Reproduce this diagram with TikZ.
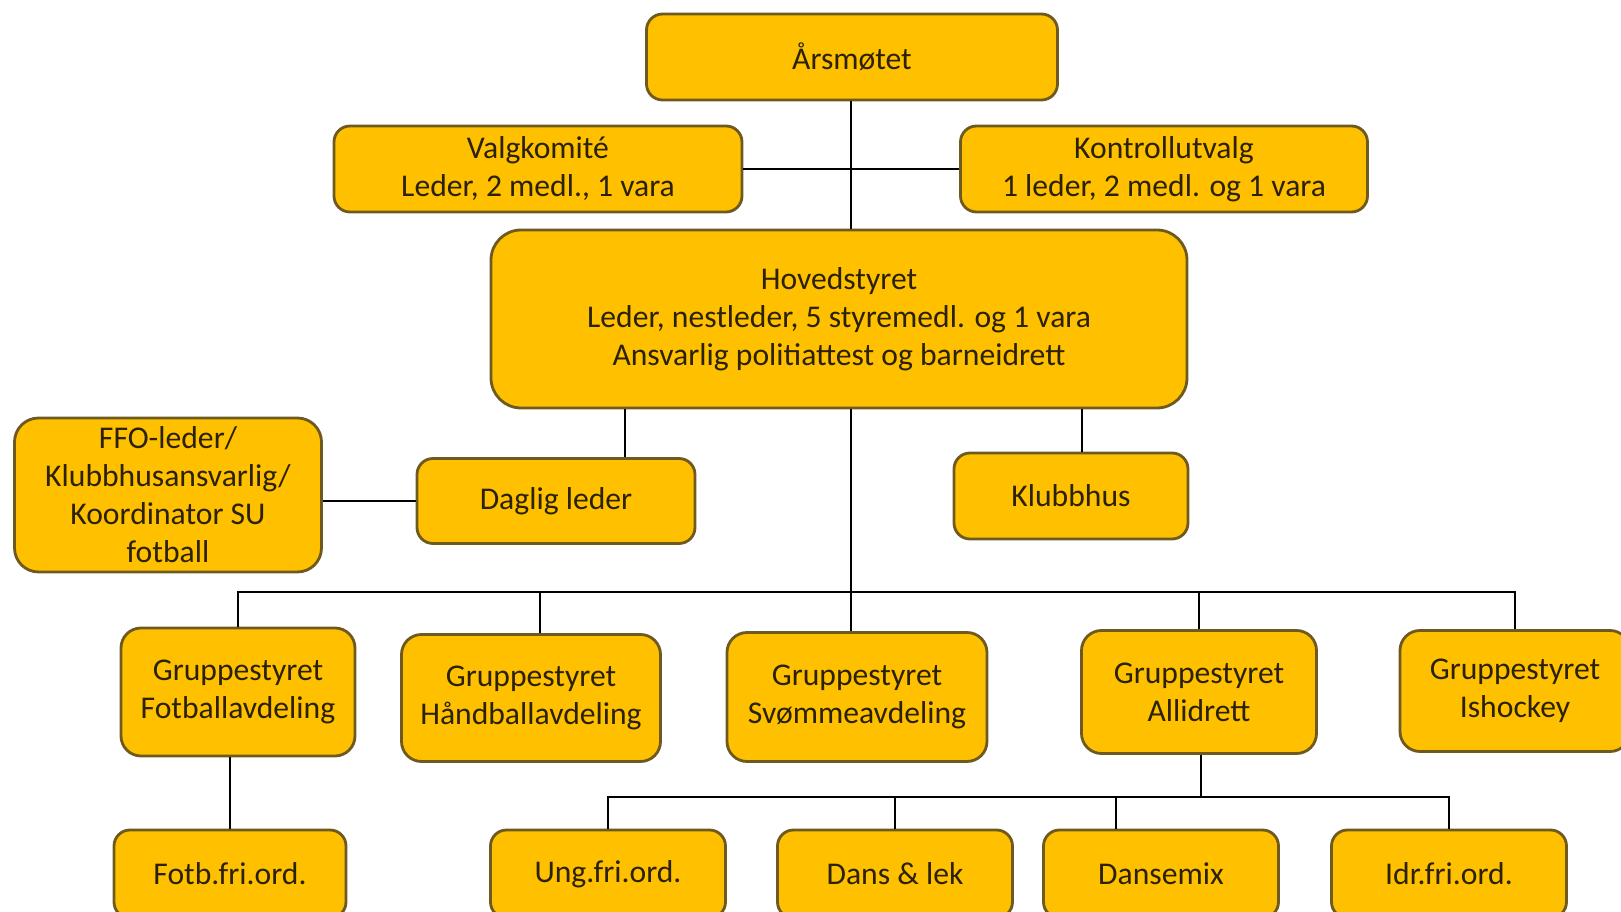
\documentclass[tikz,border=0pt]{standalone}
\usepackage{fontspec}
\setmainfont{Carlito}
\usepackage{xcolor}
\usepackage{tikz}
\usetikzlibrary{positioning}
\definecolor{boxfill}{HTML}{FFC000}
\definecolor{boxline}{HTML}{6E5A1E}
\definecolor{boxtext}{HTML}{2B2103}

\begin{document}
\begin{tikzpicture}
	\tikzstyle{every node}=[font=\fontsize{9}{10.8}\selectfont]
	\tikzstyle{unit}=[draw=boxline, fill=boxfill, text=boxtext, line width=0.8pt, rounded corners=1.6mm, align=center, inner sep=0pt]
	\tikzstyle{link}=[line width=0.6pt, black]
	\useasboundingbox (0,0) rectangle (16.21,9.12);
		\node [unit, minimum width=4.11cm, minimum height=0.86cm] (aarsmote) at (8.52,8.55) {Årsmøtet};
		\node [unit, minimum width=4.08cm, minimum height=0.86cm] (valg) at (5.38,7.43) {Valgkomité\\Leder, 2 medl., 1 vara};
		\node [unit, minimum width=4.07cm, minimum height=0.86cm] (kontroll) at (11.64,7.43) {Kontrollutvalg\\1 leder, 2 medl. og 1 vara};
		\node [unit, rounded corners=3mm, minimum width=6.96cm, minimum height=1.78cm] (hoved) at (8.39,5.93) {Hovedstyret\\Leder, nestleder, 5 styremedl. og 1 vara\\Ansvarlig politiattest og barneidrett};
		\node [unit, rounded corners=2.4mm, minimum width=3.07cm, minimum height=1.54cm] (ffo) at (1.68,4.17) {FFO-leder/\\Klubbhusansvarlig/\\Koordinator SU\\fotball};
		\node [unit, minimum width=2.78cm, minimum height=0.85cm] (daglig) at (5.56,4.11) {Daglig leder};
		\node [unit, minimum width=2.34cm, minimum height=0.86cm] (klubbhus) at (10.71,4.16) {Klubbhus};
		\node [unit, rounded corners=2mm, minimum width=2.34cm, minimum height=1.28cm] (gfot) at (2.38,2.20) {Gruppestyret\\Fotballavdeling};
		\node [unit, rounded corners=2mm, minimum width=2.59cm, minimum height=1.27cm] (ghand) at (5.31,2.14) {Gruppestyret\\Håndballavdeling};
		\node [unit, rounded corners=2mm, minimum width=2.60cm, minimum height=1.29cm] (gsvom) at (8.57,2.15) {Gruppestyret\\Svømmeavdeling};
		\node [unit, rounded corners=2mm, minimum width=2.35cm, minimum height=1.23cm] (galli) at (11.99,2.20) {Gruppestyret\\Allidrett};
		\node [unit, rounded corners=2mm, minimum width=2.30cm, minimum height=1.21cm] (gis) at (15.15,2.21) {Gruppestyret\\Ishockey};
		\node [unit, minimum width=2.32cm, minimum height=0.88cm] (fotb) at (2.30,0.38) {Fotb.fri.ord.};
		\node [unit, minimum width=2.35cm, minimum height=0.88cm] (ung) at (6.08,0.38) {Ung.fri.ord.};
		\node [unit, minimum width=2.35cm, minimum height=0.88cm] (dans) at (8.95,0.38) {Dans \& lek};
		\node [unit, minimum width=2.35cm, minimum height=0.88cm] (dmix) at (11.61,0.38) {Dansemix};
		\node [unit, minimum width=2.35cm, minimum height=0.88cm] (idr) at (14.49,0.38) {Idr.fri.ord.};
		\coordinate (bus) at (8.51,3.20);
		\coordinate (bus2) at (12.01,1.15);
		\draw [link] (aarsmote.south -| bus) -- (hoved.north -| bus);
		\draw [link] (valg.east) -- (kontroll.west);
		\draw [link] ([xshift=6.9mm]daglig.north) -- ([xshift=6.9mm]daglig.north |- hoved.south);
		\draw [link] ([xshift=1.1mm]klubbhus.north) -- ([xshift=1.1mm]klubbhus.north |- hoved.south);
		\draw [link] (ffo.east |- daglig.west) -- (daglig.west);
		\draw [link] (hoved.south -| bus) -- (gsvom.north -| bus);
		\draw [link] (gfot.north) -- (gfot.north |- bus) -- (gis.north |- bus) -- (gis.north);
		\draw [link] ([xshift=0.9mm]ghand.north) -- ([xshift=0.9mm]ghand.north |- bus);
		\draw [link] (galli.north) -- (galli.north |- bus);
		\draw [link] (fotb.north) -- (fotb.north |- gfot.south);
		\draw [link] (galli.south -| bus2) -- (bus2);
		\draw [link] (ung.north) -- (ung.north |- bus2) -- (idr.north |- bus2) -- (idr.north);
		\draw [link] (dans.north) -- (dans.north |- bus2);
		\draw [link] ([xshift=-4.5mm]dmix.north) -- ([xshift=-4.5mm]dmix.north |- bus2);
	\end{tikzpicture}
\end{document}
